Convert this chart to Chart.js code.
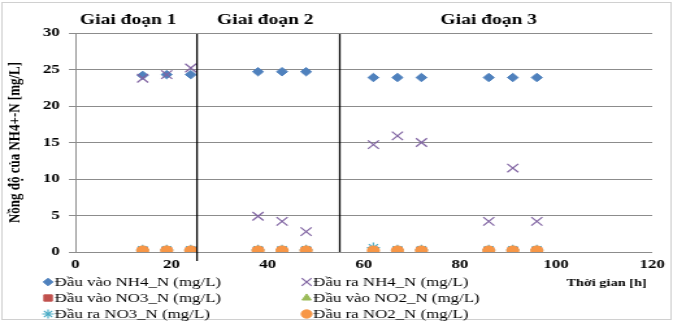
<!DOCTYPE html>
<html>
<head>
<meta charset="utf-8">
<script src="https://cdn.jsdelivr.net/npm/chart.js@4/dist/chart.umd.min.js"></script>
<style>
html,body{margin:0;padding:0;background:#fff;}
#wrap{width:673px;height:323px;position:relative;overflow:hidden;}
#c{display:block;width:673px;height:323px;}
</style>
</head>
<body>
<div id="wrap"><canvas id="c" width="518" height="323" style="width:673px;height:323px;"></canvas></div>
<script>
// ---- data ----
const time = [14, 19, 24, 38, 43, 48, 62, 67, 72, 86, 91, 96];
const inNH4 = [24.2, 24.3, 24.3, 24.7, 24.7, 24.7, 23.9, 23.9, 23.9, 23.9, 23.9, 23.9];
const outNH4 = [23.8, 24.3, 25.2, 4.9, 4.2, 2.8, 14.7, 15.9, 15.0, 4.2, 11.5, 4.2];
const inNO3 = [0.2, 0.2, 0.2, 0.2, 0.2, 0.2, 0.2, 0.2, 0.2, 0.2, 0.2, 0.2];
const inNO2 = [0.1, 0.1, 0.1, 0.1, 0.1, 0.1, 0.1, 0.1, 0.1, 0.1, 0.1, 0.1];
const outNO3 = [0.3, 0.3, 0.3, 0.3, 0.3, 0.3, 0.6, 0.3, 0.3, 0.3, 0.3, 0.3];
const outNO2 = [0.2, 0.2, 0.2, 0.2, 0.2, 0.2, 0.2, 0.2, 0.2, 0.2, 0.2, 0.2];
const stageLabels = ["Giai đoạn 1", "Giai đoạn 2", "Giai đoạn 3"];
const stageCenters = [11, 39.5, 86];
const stageBounds = [25.3, 55];
const seriesNames = ["Đầu vào NH4_N (mg/L)", "Đầu ra NH4_N (mg/L)", "Đầu vào NO3_N (mg/L)",
  "Đầu vào NO2_N (mg/L)", "Đầu ra NO3_N (mg/L)", "Đầu ra NO2_N (mg/L)"];
const yTitle = "Nồng độ của NH4+-N [mg/L]";
const xTitle = "Thời gian [h]";

const pts = arr => time.map((t, i) => ({x: t, y: arr[i]}));
const SERIF = "'Liberation Serif', 'Times New Roman', serif";

const styles = [
  {pointStyle: 'rectRot', radius: 4.2, bg: '#4F81BD', bc: '#4F81BD', bw: 1},
  {pointStyle: 'crossRot', radius: 6, bg: '#8064A2', bc: '#8064A2', bw: 1.2},
  {pointStyle: 'rect', radius: 5, bg: '#C0504D', bc: '#C0504D', bw: 1},
  {pointStyle: 'triangle', radius: 4.5, bg: '#9BBB59', bc: '#9BBB59', bw: 1},
  {pointStyle: 'star', radius: 5, bg: '#4BACC6', bc: '#4BACC6', bw: 1.2},
  {pointStyle: 'circle', radius: 4.6, bg: '#F79646', bc: '#F79646', bw: 1}
];
const values = [inNH4, outNH4, inNO3, inNO2, outNO3, outNO2];

const datasets = values.map((v, i) => ({
  label: seriesNames[i],
  data: pts(v),
  pointStyle: styles[i].pointStyle,
  pointRadius: styles[i].radius,
  pointHoverRadius: styles[i].radius,
  pointBackgroundColor: styles[i].bg,
  pointBorderColor: styles[i].bc,
  pointBorderWidth: styles[i].bw,
  showLine: false,
  order: 6 - i
}));

const decor = {
  id: 'decor',
  beforeDraw(chart) {
    const ctx = chart.ctx;
    ctx.save();
    ctx.strokeStyle = '#d0d0d0';
    ctx.lineWidth = 1;
    ctx.strokeRect(1.5, 2.5, chart.width - 3, 317);
    ctx.restore();
  },
  afterDatasetsDraw(chart) {
    const ctx = chart.ctx;
    const xs = chart.scales.x;
    const top = chart.chartArea.top, bottom = chart.chartArea.bottom;
    ctx.save();
    // stage boundary lines
    ctx.strokeStyle = '#000';
    ctx.lineWidth = 1.3;
    stageBounds.forEach((b, i) => {
      const px = xs.getPixelForValue(b);
      ctx.beginPath();
      ctx.moveTo(px, top + 1);
      ctx.lineTo(px, bottom + (i === 0 ? 9 : 0));
      ctx.stroke();
    });
    // stage labels
    ctx.fillStyle = '#000';
    ctx.font = "bold 15px " + SERIF;
    ctx.textAlign = 'center';
    ctx.textBaseline = 'middle';
    stageLabels.forEach((s, i) => {
      ctx.fillText(s, xs.getPixelForValue(stageCenters[i]), 20);
    });
    // x title
    ctx.font = "bold 11px " + SERIF;
    ctx.textAlign = 'left';
    ctx.fillText(xTitle, 436, 283);
    // legend
    const rowsY = [282, 298, 314];
    const colX = [37, 236];
    ctx.font = "13px " + SERIF;
    ctx.textBaseline = 'middle';
    const order = [[0, 1], [2, 3], [4, 5]];
    order.forEach((row, r) => {
      row.forEach((di, c) => {
        const st = styles[di];
        ctx.fillStyle = st.bg;
        ctx.strokeStyle = st.bc;
        ctx.lineWidth = st.bw;
        Chart.helpers.drawPoint(ctx, {pointStyle: st.pointStyle, radius: st.radius * 0.9, borderWidth: st.bw, rotation: 0}, colX[c], rowsY[r]);
        ctx.fillStyle = '#000';
        ctx.fillText(seriesNames[di], colX[c] + 5, rowsY[r] + 1);
      });
    });
    ctx.restore();
  }
};

new Chart(document.getElementById('c'), {
  type: 'scatter',
  data: {datasets},
  options: {
    responsive: false,
    animation: false,
    devicePixelRatio: 1,
    layout: {padding: {top: 33, right: 16, bottom: 51, left: 0}},
    plugins: {legend: {display: false}, tooltip: {enabled: false}},
    scales: {
      x: {
        type: 'linear', min: 0, max: 120,
        ticks: {stepSize: 20, color: '#000', font: {family: SERIF, size: 13, weight: 'bold'}, padding: 5, maxRotation: 0},
        grid: {display: false, drawTicks: false},
        border: {display: false},
        afterFit(s) { s.height = 20; }
      },
      y: {
        type: 'linear', min: 0, max: 30,
        ticks: {stepSize: 5, color: '#000', font: {family: SERIF, size: 13, weight: 'bold'}, padding: 7},
        grid: {color: '#8c8c8c', lineWidth: 1, drawTicks: true, tickLength: 5},
        border: {display: true, color: '#8c8c8c', width: 1},
        title: {display: true, text: yTitle, color: '#000', font: {family: SERIF, size: 13, weight: 'bold'}, padding: {top: 4, bottom: 2}},
        afterFit(s) { s.width = 58; }
      }
    }
  },
  plugins: [decor]
});
</script>
</body>
</html>
